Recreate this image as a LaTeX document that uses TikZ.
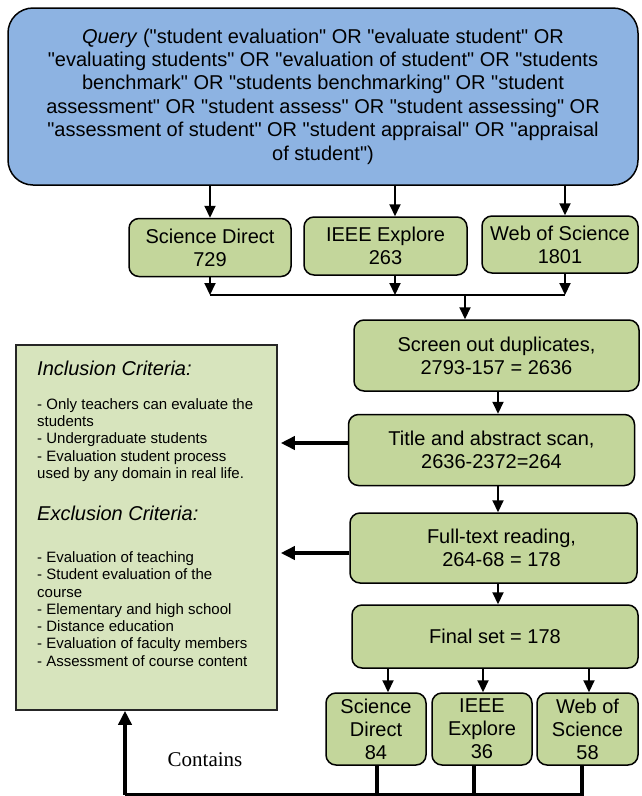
\documentclass[tikz,border=0pt]{standalone}
\usepackage{fontspec}
\setmainfont[Ligatures=TeXOff]{Liberation Sans}
\newfontfamily\timesfont{Liberation Serif}
\usetikzlibrary{arrows.meta}
\definecolor{queryblue}{HTML}{8DB3E2}
\definecolor{stagegreen}{HTML}{C3D69B}
\definecolor{critgreen}{HTML}{D7E4BD}
\begin{document}
\begin{tikzpicture}[x=1pt,y=-1pt,
  querybox/.style={draw=black,line width=1.5pt,fill=queryblue,rounded corners=25pt,
    align=center,inner sep=0pt,font=\fontsize{20}{23.4}\selectfont},
  stagebox/.style={draw=black,line width=1.5pt,fill=stagegreen,rounded corners=10pt,
    align=center,inner sep=0pt,font=\fontsize{20}{23}\selectfont},
  critbox/.style={draw=black!85,line width=1.5pt,fill=critgreen,inner sep=0pt},
  crithead/.style={anchor=west,inner sep=0pt,font=\fontsize{20}{23}\selectfont\itshape},
  critlist/.style={anchor=west,align=left,inner sep=0pt,font=\fontsize{15}{17.3}\selectfont},
  arr/.style={line width=2pt,-{Triangle[width=11pt,length=12pt]}},
  bigarr/.style={line width=3.5pt,-{Triangle[width=13pt,length=14pt]}},
  bus/.style={line width=3.5pt}]
\useasboundingbox (0,0) rectangle (641,796);
% Query
\node[querybox,minimum width=630pt,minimum height=177pt] (query) at (323,96.5)
  {\textit{Query} ("student evaluation" OR "evaluate student" OR\\
   "evaluating students" OR "evaluation of student" OR "students\\
   benchmark" OR "students benchmarking" OR "student\\
   assessment" OR "student assess" OR "student assessing" OR\\
   "assessment of student" OR "student appraisal" OR "appraisal\\
   of student")};
% Databases
\node[stagebox,minimum width=162pt,minimum height=58pt] (sd1) at (210,247.5) {Science Direct\\729};
\node[stagebox,minimum width=163pt,minimum height=58pt] (ie1) at (385.5,246) {IEEE Explore\\263};
\node[stagebox,minimum width=156pt,minimum height=57pt] (ws1) at (560,244.5) {Web of Science\\1801};
% Filtering steps
\node[stagebox,minimum width=285pt,minimum height=71pt] (scr) at (496.5,355.5) {Screen out duplicates,\\2793-157 = 2636};
\node[stagebox,minimum width=286pt,minimum height=71pt] (tas) at (491.5,450) {Title and abstract scan,\\2636-2372=264};
\node[stagebox,minimum width=287pt,minimum height=70pt] (ftr) at (493.5,548) {\hspace*{16pt}Full-text reading,\\\hspace*{16pt}264-68 = 178};
\node[stagebox,minimum width=286pt,minimum height=63pt] (fin) at (495,636.5) {Final set = 178};
% Final per database
\node[stagebox,minimum width=100pt,minimum height=72pt] (sd2) at (376,729) {Science\\Direct\\84};
\node[stagebox,minimum width=100pt,minimum height=72pt] (ie2) at (482,729) {IEEE\\Explore\\36};
\node[stagebox,minimum width=101pt,minimum height=72pt] (ws2) at (587.5,729) {Web of\\Science\\58};
% Criteria
\node[critbox,minimum width=261pt,minimum height=365pt] (crit) at (146.5,527.5) {};
\node[crithead] (inc) at (37,368) {Inclusion Criteria:};
\node[critlist] (inclist) at (37,440) {- Only teachers can evaluate the\\students\\- Undergraduate students\\- Evaluation student process\\used by any domain in real life.};
\node[crithead] (exc) at (37,513) {Exclusion Criteria:};
\node[critlist] (exclist) at (37,609) {- Evaluation of teaching\\- Student evaluation of the\\course\\- Elementary and high school\\- Distance education\\- Evaluation of faculty members\\- Assessment of course content};
\node[font=\fontsize{21}{24}\timesfont] (lblc) at (205,760) {Contains};
% Columns
\coordinate (c1) at (210,0);
\coordinate (c2) at (395,0);
\coordinate (c3) at (565,0);
\coordinate (m) at (465,295);
\coordinate (c4) at (498,0);
\coordinate (c5) at (388,0);
\coordinate (c6) at (483,0);
\coordinate (c7) at (589,0);
\coordinate (a1) at (0,443);
\coordinate (a2) at (0,553);
\coordinate (b0) at (125,795);
\coordinate (b1) at (377,0);
\coordinate (b2) at (474,0);
\coordinate (b3) at (582,0);
% Arrows
\foreach \c/\n in {c1/sd1,c2/ie1,c3/ws1}{
  \draw[arr] (query.south -| \c) -- (\n.north -| \c);
  \draw[arr] (\n.south -| \c) -- (\c |- m);
}
\draw[line width=2pt] (c1 |- m) -- (c3 |- m);
\draw[arr] (m) -- (scr.north -| m);
\draw[arr] (scr.south -| c4) -- (tas.north -| c4);
\draw[arr] (tas.south -| c4) -- (ftr.north -| c4);
\draw[arr] (ftr.south -| c4) -- (fin.north -| c4);
\foreach \c/\n in {c5/sd2,c6/ie2,c7/ws2}
  \draw[arr] (fin.south -| \c) -- (\n.north -| \c);
\draw[bigarr,shorten >=3pt] (tas.west |- a1) -- (crit.east |- a1);
\draw[bigarr,shorten >=3pt] (ftr.west |- a2) -- (crit.east |- a2);
% Contains
\draw[bus] (sd2.south -| b1) -- (b1 |- b0);
\draw[bus] (ie2.south -| b2) -- (b2 |- b0);
\draw[bus] (ws2.south -| b3) -- (b3 |- b0) -- (b0);
\draw[bigarr] (b0) -- (crit.south -| b0);
\end{tikzpicture}
\end{document}
